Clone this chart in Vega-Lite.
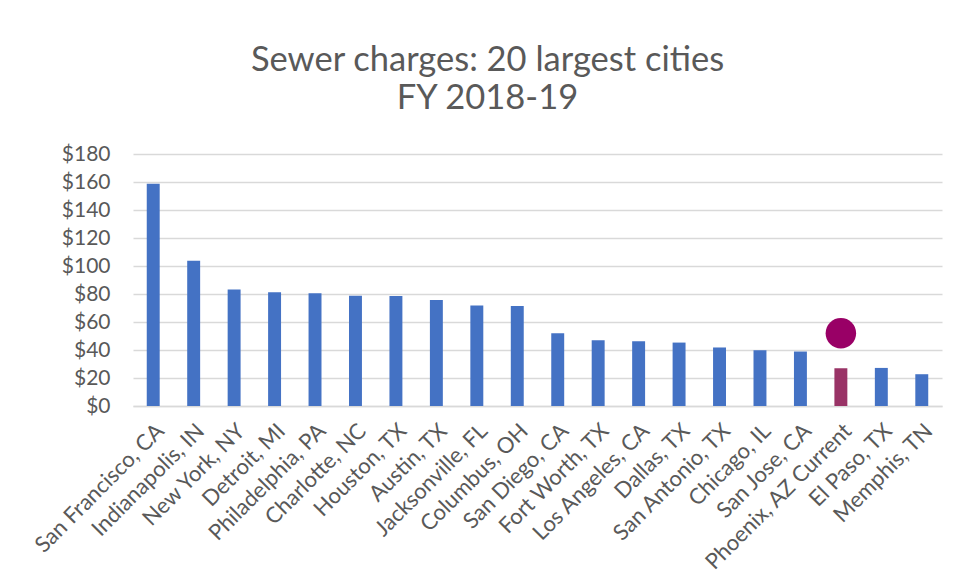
{
  "$schema": "https://vega.github.io/schema/vega-lite/v6.json",
  "autosize": {"type": "none"},
  "width": 809,
  "height": 252,
  "padding": {"left": 133, "top": 154, "right": 15, "bottom": 182},
  "background": "white",
  "config": {
    "view": {"stroke": null},
    "font": "Lato",
    "axis": {"labelFont": "Lato", "labelColor": "#595959", "titleFont": "Lato", "labelOverlap": false}
  },
  "title": {
    "text": ["Sewer charges: 20 largest cities", "FY 2018-19"],
    "font": "Lato",
    "fontSize": 34.5,
    "fontWeight": "normal",
    "color": "#595959",
    "lineHeight": 38,
    "anchor": "middle",
    "dx": -50,
    "offset": 27
  },
  "datasets": {
    "charges": [
      {"city": "San Francisco, CA", "charge": 158.8},
      {"city": "Indianapolis, IN", "charge": 103.7},
      {"city": "New York, NY", "charge": 83.2},
      {"city": "Detroit, MI", "charge": 81.3},
      {"city": "Philadelphia, PA", "charge": 80.6},
      {"city": "Charlotte, NC", "charge": 78.7},
      {"city": "Houston, TX", "charge": 78.5},
      {"city": "Austin, TX", "charge": 75.8},
      {"city": "Jacksonville, FL", "charge": 71.8},
      {"city": "Columbus, OH", "charge": 71.4},
      {"city": "San Diego, CA", "charge": 52.0},
      {"city": "Fort Worth, TX", "charge": 47.0},
      {"city": "Los Angeles, CA", "charge": 46.3},
      {"city": "Dallas, TX", "charge": 45.3},
      {"city": "San Antonio, TX", "charge": 41.8},
      {"city": "Chicago, IL", "charge": 39.8},
      {"city": "San Jose, CA", "charge": 38.9},
      {"city": "Phoenix, AZ Current", "charge": 27.0},
      {"city": "El Paso, TX", "charge": 27.2},
      {"city": "Memphis, TN", "charge": 22.7}
    ],
    "marker": [
      {"city": "Phoenix, AZ Current", "charge": 52}
    ]
  },
  "encoding": {
    "x": {
      "field": "city",
      "type": "nominal",
      "sort": null,
      "scale": {"paddingInner": 0.68, "paddingOuter": 0.34},
      "axis": {
        "title": null,
        "labelAngle": -45,
        "labelFontSize": 22,
        "labelPadding": 14,
        "ticks": false,
        "domainColor": "#D9D9D9",
        "domainWidth": 1.5,
        "labelLimit": 300,
        "labelOverlap": false
      }
    },
    "y": {
      "field": "charge",
      "type": "quantitative",
      "scale": {"domain": [0, 180], "nice": false},
      "axis": {
        "title": null,
        "values": [0, 20, 40, 60, 80, 100, 120, 140, 160, 180],
        "format": "$.0f",
        "labelFontSize": 21,
        "labelOverlap": false,
        "domain": false,
        "ticks": false,
        "labelPadding": 23,
        "gridColor": "#D9D9D9",
        "gridWidth": 1.5
      }
    }
  },
  "layer": [
    {
      "data": {"name": "charges"},
      "mark": {"type": "bar"},
      "encoding": {
        "color": {
          "condition": {"test": "datum.city === 'Phoenix, AZ Current'", "value": "#993366"},
          "value": "#4472C4"
        }
      }
    },
    {
      "data": {"name": "marker"},
      "mark": {"type": "point", "filled": true, "shape": "circle", "size": 930, "color": "#990066", "opacity": 1}
    }
  ]
}
